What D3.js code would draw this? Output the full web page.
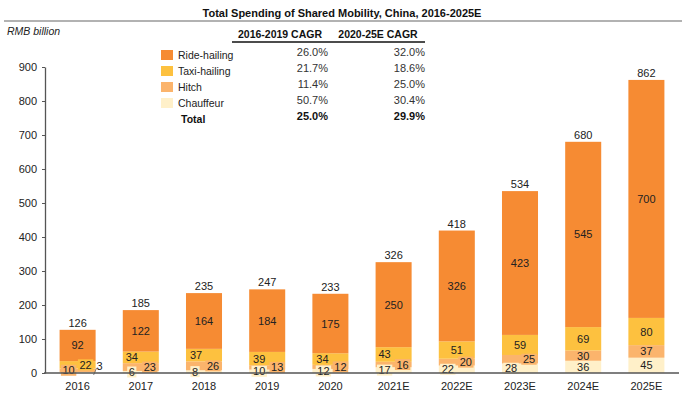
<!DOCTYPE html>
<html><head><meta charset="utf-8">
<script src="https://cdn.jsdelivr.net/npm/d3@7"></script>
<style>
body{margin:0;background:#fff;}
svg{display:block;font-family:"Liberation Sans",Arial,sans-serif;}
</style></head>
<body><svg id="c" width="684" height="400"></svg>
<script>
const years = ["2016","2017","2018","2019","2020","2021E","2022E","2023E","2024E","2025E"];
const rideHailing = [92,122,164,184,175,250,326,423,545,700];
const taxiHailing = [22,34,37,39,34,43,51,59,69,80];
const hitch = [10,23,26,13,12,16,20,25,30,37];
const chauffeur = [3,6,8,10,12,17,22,28,36,45];
const totals = [126,185,235,247,233,326,418,534,680,862];
const seriesNames = ["Ride-hailing","Taxi-hailing","Hitch","Chauffeur"];
const cagr1619 = ["26.0%","21.7%","11.4%","50.7%"];
const cagr2025 = ["32.0%","18.6%","25.0%","30.4%"];
const totalCagr = ["25.0%","29.9%"];
const yTicks = [0,100,200,300,400,500,600,700,800,900];

const colors = {"Ride-hailing":"#F68B33","Taxi-hailing":"#FDC13F","Hitch":"#FBB46C","Chauffeur":"#FFF0C9"};
// label horizontal nudges for crowded small segments (layout only)
const nudge = {
  "Taxi-hailing":[8,-9,-8,-8,-8,-9,0,0,0,0],
  "Hitch":[-9,9,9,10,10,9,9,9,0,0],
  "Chauffeur":[22,-9,-9,-8,-7,-9,-9,-9,0,0]
};

const svg = d3.select("#c");
const x = d3.scaleBand().domain(years).range([46,678]).paddingInner(0.43).paddingOuter(0.215);
const y = d3.scaleLinear().domain([0,900]).range([373,67]);

// title
svg.append("text").attr("x",342).attr("y",17).attr("text-anchor","middle")
  .attr("font-weight","bold").attr("font-size",11).attr("fill","#111")
  .text("Total Spending of Shared Mobility, China, 2016-2025E");
svg.append("line").attr("x1",4).attr("x2",682).attr("y1",21).attr("y2",21)
  .attr("stroke","#999").attr("stroke-width",1.5);
svg.append("text").attr("x",7).attr("y",35).attr("font-style","italic")
  .attr("font-size",10.5).attr("fill","#222").text("RMB billion");

// stacked data
const rows = years.map((yr,i)=>({year:yr,"Ride-hailing":rideHailing[i],"Taxi-hailing":taxiHailing[i],"Hitch":hitch[i],"Chauffeur":chauffeur[i]}));
const stack = d3.stack().keys(["Chauffeur","Hitch","Taxi-hailing","Ride-hailing"])(rows);

const g = svg.append("g");
stack.forEach(layer=>{
  g.selectAll(null).data(layer).enter().append("rect")
    .attr("x",d=>x(d.data.year)).attr("width",x.bandwidth())
    .attr("y",d=>y(d[1])).attr("height",d=>y(d[0])-y(d[1]))
    .attr("fill",colors[layer.key]);
});

// axes
const ya = svg.append("g").attr("transform","translate(45,0)")
  .call(d3.axisLeft(y).tickValues(yTicks).tickSize(3).tickPadding(5).tickSizeOuter(0));
ya.select(".domain").attr("stroke","#555").attr("stroke-width",1.3);
ya.selectAll(".tick line").attr("stroke","#555");
ya.selectAll("text").attr("font-size",11).attr("fill","#222").attr("font-family","Liberation Sans, Arial, sans-serif");

const xa = svg.append("g").attr("transform","translate(0,373)")
  .call(d3.axisBottom(x).tickSize(0).tickPadding(9));
xa.select(".domain").remove();
xa.selectAll("text").attr("font-size",11).attr("fill","#222").attr("font-family","Liberation Sans, Arial, sans-serif");

// segment labels
const lab = svg.append("g").attr("font-size",11).attr("fill","#222");
stack.forEach(layer=>{
  const key = layer.key;
  layer.forEach((d,i)=>{
    const cx = x(d.data.year)+x.bandwidth()/2;
    let cy = (y(d[0])+y(d[1]))/2;
    let dx = key==="Ride-hailing"?0:nudge[key][i];
    const txt = String(d.data[key]);
    if(key==="Chauffeur" && i===0){
      cy = y(d[1]) - 6;
      svg.append("line").attr("x1",cx+16).attr("y1",375).attr("x2",cx+19).attr("y2",368)
        .attr("stroke","#666").attr("stroke-width",0.8);
    }
    if(key!=="Ride-hailing" && i<8 && !(key==="Chauffeur"&&i===0)){
      const w = txt.length*6.2+3;
      lab.append("rect").attr("x",cx+dx-w/2).attr("y",cy-5.5).attr("width",w).attr("height",11)
        .attr("fill",colors[key]);
    }
    if(key==="Chauffeur" && i===3){
      lab.append("line").attr("x1",cx+dx+7).attr("x2",cx+dx+11).attr("y1",cy+1).attr("y2",cy+1)
        .attr("stroke","#666").attr("stroke-width",0.8);
    }
    lab.append("text").attr("x",cx+dx).attr("y",cy+4).attr("text-anchor","middle").text(txt);
  });
});

// totals
svg.append("g").selectAll("text").data(years).enter().append("text")
  .attr("x",d=>x(d)+x.bandwidth()/2).attr("y",(d,i)=>y(totals[i])-3)
  .attr("text-anchor","middle").attr("font-size",11).attr("fill","#222")
  .text((d,i)=>totals[i]);

// legend/table
const tb = svg.append("g");
tb.append("text").attr("x",280).attr("y",38).attr("text-anchor","middle").attr("font-weight","bold")
  .attr("font-size",10.5).attr("fill","#111").text("2016-2019 CAGR");
tb.append("text").attr("x",378).attr("y",38).attr("text-anchor","middle").attr("font-weight","bold")
  .attr("font-size",10.5).attr("fill","#111").text("2020-25E CAGR");
tb.append("line").attr("x1",232).attr("x2",425).attr("y1",42).attr("y2",42)
  .attr("stroke","#111").attr("stroke-width",1.5);
seriesNames.forEach((s,i)=>{
  const cy = 55+i*16;
  tb.append("rect").attr("x",161).attr("y",cy-5).attr("width",12).attr("height",10).attr("fill",colors[s]);
  tb.append("text").attr("x",178).attr("y",cy+4).attr("font-size",10.5).attr("fill","#222").text(s);
  tb.append("text").attr("x",328).attr("y",cy+1).attr("text-anchor","end").attr("font-size",11).attr("fill","#333").text(cagr1619[i]);
  tb.append("text").attr("x",425).attr("y",cy+1).attr("text-anchor","end").attr("font-size",11).attr("fill","#333").text(cagr2025[i]);
});
tb.append("text").attr("x",181).attr("y",123).attr("font-size",10.5).attr("font-weight","bold").attr("fill","#111").text("Total");
tb.append("text").attr("x",328).attr("y",120).attr("text-anchor","end").attr("font-size",11).attr("font-weight","bold").attr("fill","#111").text(totalCagr[0]);
tb.append("text").attr("x",425).attr("y",120).attr("text-anchor","end").attr("font-size",11).attr("font-weight","bold").attr("fill","#111").text(totalCagr[1]);

// x axis line on top of bars
svg.append("line").attr("x1",44).attr("x2",679).attr("y1",373).attr("y2",373)
  .attr("stroke","#555").attr("stroke-width",1.3);
</script></body></html>
